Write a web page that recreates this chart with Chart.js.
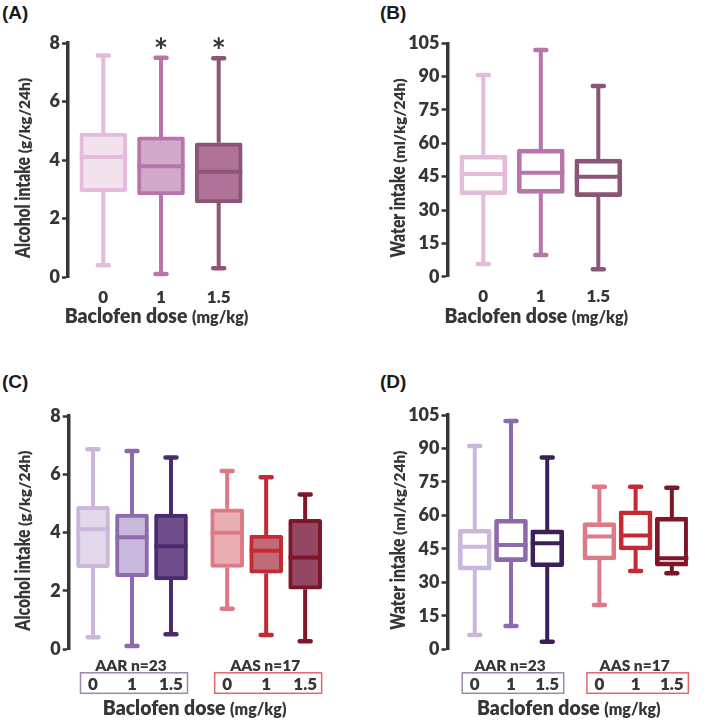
<!DOCTYPE html>
<html>
<head>
<meta charset="utf-8">
<script src="https://cdn.jsdelivr.net/npm/chart.js@4.4.1/dist/chart.umd.min.js"></script>
<style>
  body { margin: 0; background: #fff; }
  #wrap { position: relative; width: 709px; height: 722px; overflow: hidden; }
  .panel { position: absolute; }
  .tag { position: absolute; font: bold 19px "Liberation Sans", Arial, sans-serif; color: #1a1a1a; line-height: 19px; }
</style>
</head>
<body>
<div id="wrap">
  <div class="tag" style="left:2px;top:3px">(A)</div>
  <div class="tag" style="left:380px;top:3px">(B)</div>
  <div class="tag" style="left:2px;top:372px">(C)</div>
  <div class="tag" style="left:380px;top:372px">(D)</div>
  <div class="panel" style="left:0;top:0"><canvas id="chartA" width="350" height="340"></canvas></div>
  <div class="panel" style="left:350px;top:0"><canvas id="chartB" width="359" height="340"></canvas></div>
  <div class="panel" style="left:0;top:340px"><canvas id="chartC" width="350" height="382"></canvas></div>
  <div class="panel" style="left:350px;top:340px"><canvas id="chartD" width="359" height="382"></canvas></div>
</div>
<script>
// ---- data ----
const doses = ["0", "1", "1.5"];
const groups = ["AAR n=23", "AAS n=17"];

const alcTicks = [0, 2, 4, 6, 8];
const watTicks = [0, 15, 30, 45, 60, 75, 90, 105];

// (A) alcohol intake, all rats
const alcMin = [0.4, 0.1, 0.3];
const alcQ1 = [2.92, 2.81, 2.53];
const alcMed = [4.1, 3.79, 3.6];
const alcQ3 = [4.92, 4.79, 4.59];
const alcMax = [7.57, 7.5, 7.48];
const alcSig = ["", "*", "*"];

// (B) water intake, all rats
const watMin = [5.7, 9.8, 3.3];
const watQ1 = [36.8, 37.5, 36.0];
const watMed = [46.2, 46.8, 45.0];
const watQ3 = [54.7, 57.4, 52.9];
const watMax = [90.7, 102, 85.8];

// (C) alcohol intake by group (AAR 0/1/1.5, AAS 0/1/1.5)
const alcGrpMin = [0.41, 0.11, 0.52, 1.39, 0.49, 0.28];
const alcGrpQ1 = [2.8, 2.49, 2.38, 2.81, 2.61, 2.06];
const alcGrpMed = [4.12, 3.84, 3.53, 4.0, 3.38, 3.15];
const alcGrpQ3 = [4.9, 4.64, 4.64, 4.82, 3.92, 4.46];
const alcGrpMax = [6.86, 6.8, 6.58, 6.11, 5.9, 5.31];

// (D) water intake by group
const watGrpMin = [6.4, 10.4, 3.4, 19.9, 35.1, 34.1];
const watGrpQ1 = [35.5, 39.3, 37.0, 40.0, 44.5, 37.3];
const watGrpMed = [46.0, 46.7, 47.5, 50.5, 51.0, 40.8];
const watGrpQ3 = [53.8, 58.3, 53.5, 56.8, 62.1, 59.2];
const watGrpMax = [91.1, 102.3, 85.9, 72.9, 72.9, 72.4];

// ---- styling ----
const FONT = 'Lato, "Open Sans", sans-serif';
const WT = "800";
const INK = "#363636";
const pinkLine = ["#e2bcd8", "#b676aa", "#8a5576"];
const pinkFill = ["#f1e2ed", "#d3a9c9", "#b07298"];
const grpLineC = ["#cbb6dc", "#8e6aad", "#4b2a70", "#dc7b85", "#c32a33", "#7e1529"];
const grpLineD = ["#cbb6dc", "#8e6aad", "#3b1f58", "#dc7b85", "#c32a33", "#7e1529"];
const grpFill = ["#e2d8ec", "#c8b8db", "#6f4e8c", "#e9aeb3", "#c26b78", "#944762"];
const groupLine = ["#9c88aa", "#e0686b"];

const font = size => WT + " " + size + "px " + FONT;

// two-size text run (bold title + smaller unit), optionally condensed
function mixedText(ctx, parts, cx, base, big, small, squeeze) {
  const k = squeeze || 1;
  ctx.textAlign = "left";
  ctx.textBaseline = "alphabetic";
  ctx.font = font(big);
  const w1 = ctx.measureText(parts[0]).width * k;
  ctx.font = font(small);
  const w2 = ctx.measureText(parts[1]).width;
  const sx = cx - (w1 + w2) / 2;
  ctx.save();
  ctx.translate(sx, base);
  ctx.scale(k, 1);
  ctx.font = font(big);
  ctx.fillText(parts[0], 0, 0);
  ctx.restore();
  ctx.font = font(small);
  ctx.fillText(parts[1], sx + w1, base);
}

// whiskers, caps, medians, asterisks
function boxParts(s) {
  return {
    id: "boxParts",
    afterDatasetsDraw(chart) {
      const { ctx, scales: { x, y } } = chart;
      const bars = chart.getDatasetMeta(0).data;
      ctx.save();
      s.max.forEach((hi, i) => {
        const cx = x.getPixelForValue(s.pos[i]);
        const half = bars[i].width / 2;
        ctx.strokeStyle = s.line[i];
        ctx.lineWidth = 4;
        ctx.lineCap = "butt";
        ctx.beginPath();
        ctx.moveTo(cx, y.getPixelForValue(hi));
        ctx.lineTo(cx, y.getPixelForValue(s.q3[i]));
        ctx.moveTo(cx, y.getPixelForValue(s.q1[i]));
        ctx.lineTo(cx, y.getPixelForValue(s.min[i]));
        ctx.moveTo(cx - half, y.getPixelForValue(s.med[i]));
        ctx.lineTo(cx + half, y.getPixelForValue(s.med[i]));
        ctx.stroke();
        ctx.lineCap = "round";
        ctx.lineWidth = 4.5;
        ctx.beginPath();
        [hi, s.min[i]].forEach(v => {
          const py = y.getPixelForValue(v);
          ctx.moveTo(cx - 5.5, py);
          ctx.lineTo(cx + 5.5, py);
        });
        ctx.stroke();
        if (s.sig && s.sig[i]) {
          ctx.fillStyle = INK;
          ctx.font = "bold 34px " + FONT;
          ctx.textAlign = "center";
          ctx.textBaseline = "alphabetic";
          ctx.fillText(s.sig[i], cx, y.getPixelForValue(s.ticks[s.ticks.length - 1]) + 20);
        }
      });
      ctx.restore();
    }
  };
}

// axis titles and group boxes
function decor(s, g) {
  return {
    id: "decor",
    afterDraw(chart) {
      const { ctx, chartArea: ca, scales: { x } } = chart;
      ctx.save();
      ctx.fillStyle = INK;
      ctx.save();
      ctx.translate(g.yTitleX, (ca.top + ca.bottom) / 2 + 8);
      ctx.rotate(-Math.PI / 2);
      mixedText(ctx, s.yTitle, 0, 0, 20, 15.5, 0.78);
      ctx.restore();
      const first = x.getPixelForValue(s.pos[0]);
      const last = x.getPixelForValue(s.pos[s.pos.length - 1]);
      mixedText(ctx, ["Baclofen dose ", "(mg/kg)"], (first + last) / 2 - 4.5, ca.bottom + g.xTitleGap, 20, 16, 0.97);
      if (s.groups) {
        s.groups.forEach((name, k) => {
          const a = x.getPixelForValue(s.pos[k * 3]);
          const b = x.getPixelForValue(s.pos[k * 3 + 2]);
          ctx.strokeStyle = groupLine[k];
          ctx.lineWidth = 1.5;
          ctx.strokeRect(a - 12.5, ca.bottom + 23.5, b - a + 29, 20.5);
          ctx.fillStyle = INK;
          ctx.font = font(15.5);
          ctx.textAlign = "center";
          ctx.textBaseline = "middle";
          ctx.fillText(name, (a + b) / 2 - 1, ca.bottom + 16.5);
        });
      }
      ctx.restore();
    }
  };
}

function buildPanel(id, s, g) {
  const right = g.w - 4;
  const xMin = 1 - (g.firstPx - g.axisX) / g.step;
  const xMax = 1 + (right - g.firstPx) / g.step;
  new Chart(document.getElementById(id), {
    type: "bar",
    data: {
      datasets: [{
        data: s.pos.map((p, i) => ({ x: p, y: [s.q1[i], s.q3[i]] })),
        backgroundColor: s.fill,
        borderColor: s.line,
        borderWidth: 4,
        borderSkipped: false,
        borderRadius: 2,
        barThickness: g.barW
      }]
    },
    options: {
      responsive: false,
      animation: false,
      layout: { autoPadding: false, padding: { top: g.top, right: g.w - right, bottom: 0, left: 0 } },
      plugins: { legend: { display: false }, tooltip: { enabled: false } },
      scales: {
        x: {
          type: "linear",
          min: xMin,
          max: xMax,
          offset: false,
          grid: { display: false, drawTicks: false },
          border: { display: false },
          afterBuildTicks: ax => { ax.ticks = s.pos.map(v => ({ value: v })); },
          afterFit: ax => { ax.height = g.h - g.bottom; },
          ticks: {
            autoSkip: false,
            maxRotation: 0,
            padding: g.xTickPad,
            color: INK,
            font: { family: FONT, weight: WT, size: 17 },
            callback: (v, i) => s.labels[i]
          }
        },
        y: {
          min: 0,
          max: s.ticks[s.ticks.length - 1],
          afterBuildTicks: ax => { ax.ticks = s.ticks.map(v => ({ value: v })); },
          afterFit: ax => { ax.width = g.axisX; },
          border: { display: true, width: 3.5, color: INK },
          grid: { drawOnChartArea: false, drawTicks: true, tickLength: 6, tickWidth: 2.5, tickColor: INK, color: INK },
          ticks: {
            padding: 2,
            color: INK,
            font: { family: FONT, weight: WT, size: 18 }
          }
        }
      }
    },
    plugins: [boxParts(s), decor(s, g)]
  });
}

const posAB = doses.map((d, i) => 1 + i);
const posCD = groups.flatMap((gName, k) => doses.map((d, i) => 1 + i + k * 3.44));

buildPanel("chartA",
  { labels: doses, pos: posAB, min: alcMin, q1: alcQ1, med: alcMed, q3: alcQ3, max: alcMax,
    line: pinkLine, fill: pinkFill, ticks: alcTicks, sig: alcSig, yTitle: ["Alcohol intake ", "(g/kg/24h)"] },
  { w: 350, h: 340, axisX: 68, top: 43, bottom: 277, firstPx: 103.3, step: 57.7, barW: 47,
    xTickPad: 10, xTitleGap: 46, yTitleX: 30 });

buildPanel("chartB",
  { labels: doses, pos: posAB, min: watMin, q1: watQ1, med: watMed, q3: watQ3, max: watMax,
    line: pinkLine, fill: "rgba(255,255,255,0)", ticks: watTicks, yTitle: ["Water intake ", "(ml/kg/24h)"] },
  { w: 359, h: 340, axisX: 97.5, top: 43.3, bottom: 276.7, firstPx: 133.3, step: 57.5, barW: 47,
    xTickPad: 10, xTitleGap: 46, yTitleX: 54.5 });

buildPanel("chartC",
  { labels: doses.concat(doses), pos: posCD, min: alcGrpMin, q1: alcGrpQ1, med: alcGrpMed, q3: alcGrpQ3, max: alcGrpMax,
    line: grpLineC, fill: grpFill, ticks: alcTicks, groups: groups, yTitle: ["Alcohol intake ", "(g/kg/24h)"] },
  { w: 350, h: 382, axisX: 68.7, top: 76, bottom: 309.3, firstPx: 93, step: 39, barW: 33,
    xTickPad: 25, xTitleGap: 66, yTitleX: 30 });

buildPanel("chartD",
  { labels: doses.concat(doses), pos: posCD, min: watGrpMin, q1: watGrpQ1, med: watGrpMed, q3: watGrpQ3, max: watGrpMax,
    line: grpLineD, fill: "rgba(255,255,255,0)", ticks: watTicks, groups: groups, yTitle: ["Water intake ", "(ml/kg/24h)"] },
  { w: 359, h: 382, axisX: 97.5, top: 75, bottom: 309.3, firstPx: 126.7, step: 38.8, barW: 33,
    xTickPad: 25, xTitleGap: 66, yTitleX: 54.5 });
</script>
</body>
</html>
